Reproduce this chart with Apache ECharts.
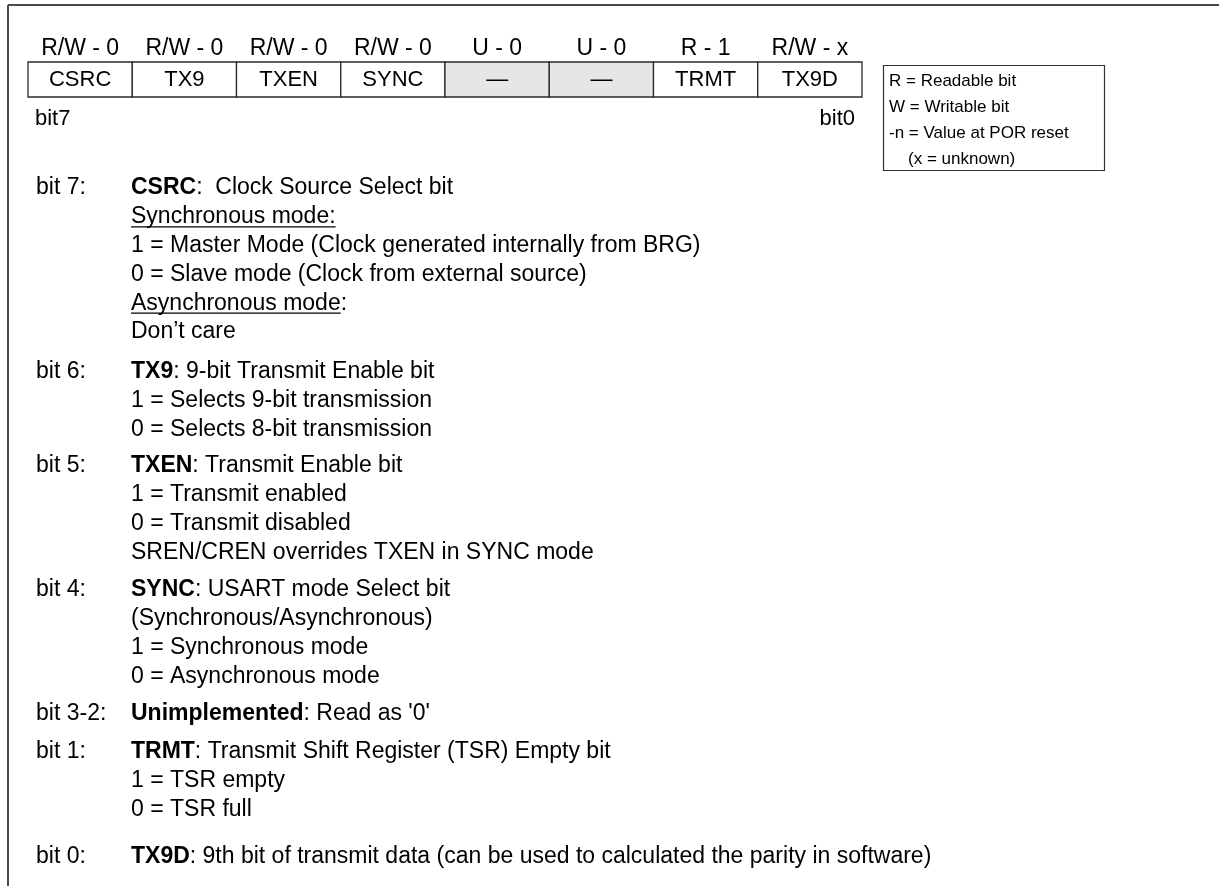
<!DOCTYPE html>
<html><head><meta charset="utf-8">
<script src="https://cdn.jsdelivr.net/npm/echarts@6/dist/echarts.min.js"></script>
<style>html,body{margin:0;padding:0;background:#fff}#c{width:1219px;height:886px}</style>
</head><body><div id="c"></div>
<script>
// ---- data ----
const bitPositions = ['7','6','5','4','3','2','1','0'];
const bitNames = ['CSRC','TX9','TXEN','SYNC','\u2014','\u2014','TRMT','TX9D'];
const accessLabels = ['R/W - 0','R/W - 0','R/W - 0','R/W - 0','U - 0','U - 0','R - 1','R/W - x'];
const implementedFlags = [1,1,1,1,0,0,1,1];
const legendLines = ['R = Readable bit','W = Writable bit','-n = Value at POR reset','(x = unknown)'];
const sectionLabels = ['bit 7:','bit 6:','bit 5:','bit 4:','bit 3-2:','bit 1:','bit 0:'];
const bit7Lines = ['**CSRC**:  Clock Source Select bit','__Synchronous mode:__','1 = Master Mode (Clock generated internally from BRG)','0 = Slave mode (Clock from external source)','__Asynchronous mode__:','Don\u2019t care'];
const bit6Lines = ['**TX9**: 9-bit Transmit Enable bit','1 = Selects 9-bit transmission','0 = Selects 8-bit transmission'];
const bit5Lines = ['**TXEN**: Transmit Enable bit','1 = Transmit enabled','0 = Transmit disabled','SREN/CREN overrides TXEN in SYNC mode'];
const bit4Lines = ['**SYNC**: USART mode Select bit','(Synchronous/Asynchronous)','1 = Synchronous mode','0 = Asynchronous mode'];
const bit32Lines = ['**Unimplemented**: Read as \'0\''];
const bit1Lines = ['**TRMT**: Transmit Shift Register (TSR) Empty bit','1 = TSR empty','0 = TSR full'];
const bit0Lines = ['**TX9D**: 9th bit of transmit data (can be used to calculated the parity in software)'];
const sectionLines = [bit7Lines, bit6Lines, bit5Lines, bit4Lines, bit32Lines, bit1Lines, bit0Lines];

// ---- layout ----
const FONT = '"Liberation Sans", Arial, Helvetica, sans-serif';
const BODY_SIZE = 23, REG_SIZE = 22, HEAD_SIZE = 23, LEG_SIZE = 17;
const sectionTops = [188, 372, 466, 590, 714, 752, 857];
const LINE_STEP = 28.8;
const LABEL_X = 36, DESC_X = 131;

const mctx = document.createElement('canvas').getContext('2d');
function measure(t, bold, size){ mctx.font = (bold?'bold ':'') + size + 'px ' + FONT; return mctx.measureText(t).width; }
function parse(str){
  const out = []; const re = /\*\*(.+?)\*\*|__(.+?)__|([^*_]+)/g; let m;
  while ((m = re.exec(str))) {
    if (m[1]) out.push({t:m[1], b:true});
    else if (m[2]) out.push({t:m[2], u:true});
    else out.push({t:m[3]});
  }
  return out;
}
const elements = [];
function addText(t, x, y, size, bold, align){
  elements.push({type:'text', x:x, y:y, silent:true, style:{text:t, fill:'#000', font:(bold?'bold ':'')+size+'px '+FONT,
    align: align||'left', verticalAlign:'middle', textAlign: align||'left', textVerticalAlign:'middle'}});
}
function addLine(x1,y1,x2,y2,w,c){
  elements.push({type:'line', silent:true, shape:{x1,y1,x2,y2}, style:{stroke:c||'#000', lineWidth:w||1}});
}
// frame
addLine(8, 5, 1219, 5, 2, '#4a4a4a');
addLine(8, 5, 8, 886, 2, '#4a4a4a');
// bit7 / bit0
addText('bit7', 35, 119, REG_SIZE, false, 'left');
addText('bit0', 855, 119, REG_SIZE, false, 'right');
// legend box
elements.push({type:'rect', silent:true, shape:{x:883.5, y:65.5, width:221, height:105}, style:{fill:'#fff', stroke:'#333', lineWidth:1.2}});
const legendY = [81, 107, 133, 159];
legendLines.forEach((t,i)=> addText(t, i===3 ? 908 : 889, legendY[i], LEG_SIZE, false, 'left'));
// descriptions
sectionLabels.forEach((lab, s) => {
  const y0 = sectionTops[s];
  addText(lab, LABEL_X, y0, BODY_SIZE, false, 'left');
  sectionLines[s].forEach((ln, k) => {
    const y = y0 + k*LINE_STEP;
    let x = DESC_X;
    parse(ln).forEach(seg => {
      addText(seg.t, x, y, BODY_SIZE, !!seg.b, 'left');
      const w = measure(seg.t, !!seg.b, BODY_SIZE);
      if (seg.u) addLine(x, y+10, x+w, y+10, 1.3, '#000');
      x += w;
    });
  });
});

const chart = echarts.init(document.getElementById('c'), null, {renderer:'canvas'});
chart.setOption({
  animation: false,
  backgroundColor: '#fff',
  grid: {left: 28, top: 62, width: 834, height: 35, containLabel: false},
  xAxis: {type:'category', data: bitPositions, position:'top', boundaryGap:true,
    axisLine:{show:false}, axisTick:{show:false}, splitLine:{show:false},
    axisLabel:{formatter:(v,i)=>accessLabels[i], color:'#000', fontSize:HEAD_SIZE, fontFamily:FONT, margin:2, interval:0}},
  yAxis: {type:'value', min:0, max:1, show:false},
  series: [{
    type:'custom', silent:true,
    data: bitNames.map((n,i)=>[i, 1, implementedFlags[i]]),
    renderItem(params, api){
      const i = api.value(0);
      const top = api.coord([i, api.value(1)]);
      const bot = api.coord([i, 0]);
      const w = api.size([1, 0])[0];
      const impl = api.value(2) === 1;
      return {type:'group', children:[
        {type:'rect', shape:{x: top[0]-w/2, y: top[1], width: w, height: bot[1]-top[1]},
          style:{fill: impl ? '#ffffff' : '#e6e6e6', stroke:'#2a2a2a', lineWidth:1.3}},
        {type:'text', style:{text: bitNames[i], x: top[0], y:(top[1]+bot[1])/2, align:'center', verticalAlign:'middle',
          fill:'#000', font: REG_SIZE+'px '+FONT}}
      ]};
    }
  }],
  graphic: {elements: elements}
});
</script></body></html>
